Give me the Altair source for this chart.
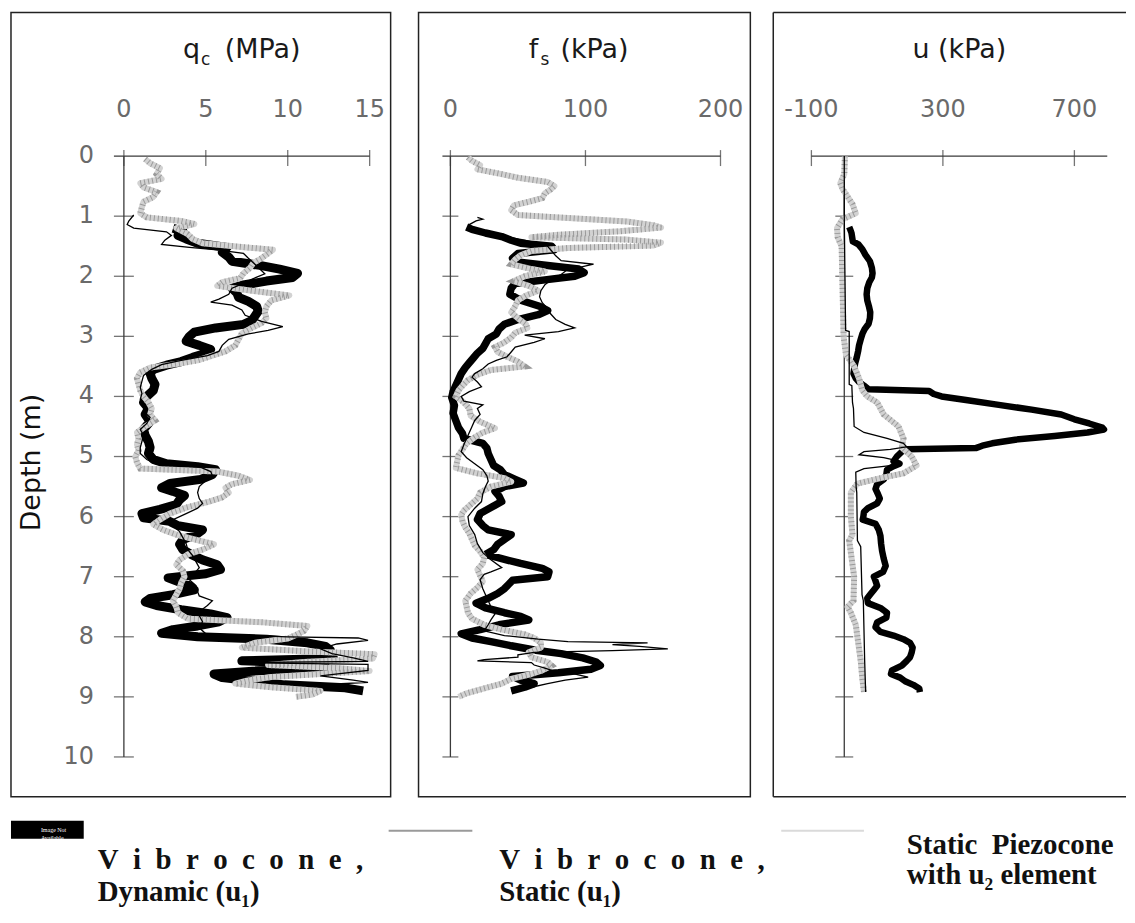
import altair as alt
import pandas as pd

# ---------------- data (depth m, value) ----------------
qc_dynamic = [(1.20, 3.0), (1.25, 3.6), (1.32, 3.3), (1.38, 3.8), (1.45, 4.5), (1.52, 6.3), (1.60, 6.0), (1.68, 6.4),
              (1.75, 6.6), (1.82, 8.3), (1.88, 9.5), (1.95, 10.6), (2.02, 10.3), (2.08, 8.7), (2.15, 7.2), (2.20, 6.6),
              (2.28, 6.9), (2.35, 7.0), (2.42, 7.6), (2.50, 8.1), (2.58, 8.2), (2.66, 8.0), (2.74, 7.8), (2.80, 7.3),
              (2.86, 5.6), (2.93, 4.3), (3.00, 4.0), (3.08, 3.8), (3.15, 4.6), (3.22, 5.3), (3.28, 5.0), (3.35, 4.2),
              (3.42, 3.5), (3.48, 2.6), (3.55, 1.8), (3.62, 1.6), (3.70, 1.7), (3.80, 1.9), (3.90, 1.8), (4.00, 1.4),
              (4.10, 1.2), (4.20, 1.5), (4.30, 1.3), (4.42, 1.6), (4.55, 1.2), (4.65, 1.3), (4.75, 1.5), (4.85, 1.6),
              (4.95, 1.5), (5.05, 1.8), (5.12, 2.6), (5.17, 4.5), (5.22, 5.6), (5.30, 5.4), (5.38, 4.7), (5.45, 2.8),
              (5.52, 2.3), (5.58, 3.0), (5.65, 3.7), (5.72, 3.4), (5.80, 3.2), (5.88, 2.2), (5.95, 1.1), (6.02, 1.2),
              (6.08, 2.8), (6.15, 3.3), (6.22, 4.8), (6.30, 4.4), (6.38, 3.6), (6.46, 3.4), (6.55, 3.6), (6.63, 4.1),
              (6.72, 4.8), (6.80, 5.7), (6.88, 5.9), (6.95, 5.0), (7.02, 2.7), (7.08, 3.3), (7.15, 4.0), (7.22, 4.3),
              (7.30, 3.0), (7.36, 1.6), (7.42, 1.3), (7.48, 2.0), (7.55, 3.5), (7.62, 5.3), (7.68, 6.3), (7.75, 5.8),
              (7.82, 4.5), (7.88, 3.0), (7.94, 2.3), (8.00, 4.5), (8.04, 8.7), (8.10, 11.2), (8.16, 12.3), (8.22, 12.6),
              (8.30, 12.2), (8.36, 12.8), (8.40, 7.2), (8.44, 11.0), (8.50, 12.3), (8.56, 8.5), (8.62, 5.5), (8.68, 6.0),
              (8.74, 8.0), (8.80, 9.8), (8.85, 13.5), (8.90, 14.6)]

qc_static = [(0.98, 0.6), (1.08, 0.3), (1.14, 0.2), (1.20, 0.6), (1.26, 2.6), (1.32, 2.9), (1.40, 2.5), (1.47, 2.3),
             (1.52, 4.0), (1.56, 5.7), (1.62, 7.3), (1.70, 7.6), (1.80, 8.0), (1.88, 8.3), (1.96, 8.6), (2.05, 7.8),
             (2.12, 7.3), (2.20, 6.6), (2.30, 6.4), (2.38, 5.8), (2.43, 5.3), (2.48, 6.6), (2.56, 7.2), (2.65, 7.4),
             (2.75, 8.4), (2.84, 9.7), (2.90, 8.8), (2.96, 7.6), (3.05, 6.4), (3.15, 6.0), (3.25, 5.8), (3.32, 5.1),
             (3.40, 3.5), (3.47, 2.3), (3.55, 1.7), (3.65, 1.2), (3.75, 1.1), (3.85, 1.0), (3.95, 1.1), (4.05, 1.0),
             (4.15, 1.3), (4.25, 1.2), (4.35, 1.6), (4.45, 1.4), (4.55, 1.0), (4.65, 1.2), (4.75, 1.1), (4.85, 1.0),
             (4.95, 1.0), (5.05, 1.4), (5.12, 1.9), (5.18, 4.7), (5.25, 5.3), (5.32, 5.4), (5.40, 5.0), (5.50, 4.6),
             (5.60, 4.5), (5.70, 4.6), (5.78, 4.8), (5.86, 4.5), (5.95, 3.8), (6.05, 3.0), (6.15, 3.0), (6.25, 3.4),
             (6.35, 3.6), (6.45, 3.8), (6.55, 3.9), (6.65, 4.2), (6.75, 4.4), (6.85, 4.6), (6.95, 4.3), (7.05, 4.0),
             (7.15, 4.4), (7.25, 4.5), (7.32, 4.6), (7.40, 5.4), (7.48, 5.1), (7.56, 4.7), (7.65, 4.6), (7.75, 4.8),
             (7.85, 4.6), (7.95, 5.0), (8.00, 10.0), (8.02, 14.3), (8.06, 14.9), (8.12, 13.0), (8.20, 12.0),
             (8.28, 12.7), (8.35, 14.0), (8.41, 14.9), (8.43, 7.2), (8.46, 14.9), (8.56, 14.9), (8.65, 12.0),
             (8.72, 14.0), (8.76, 14.9), (8.79, 12.6), (8.84, 13.5), (8.90, 14.4)]

qc_piezo = [(0.05, 1.3), (0.12, 1.6), (0.20, 2.2), (0.30, 2.0), (0.38, 2.3), (0.45, 1.0), (0.52, 1.2), (0.60, 2.0),
            (0.68, 1.8), (0.76, 1.2), (0.85, 1.1), (0.95, 1.0), (1.02, 1.4), (1.08, 3.5), (1.13, 4.3), (1.20, 3.2),
            (1.30, 3.9), (1.38, 4.2), (1.45, 4.8), (1.52, 7.5), (1.56, 9.1), (1.62, 8.8), (1.70, 8.4), (1.78, 7.9),
            (1.86, 7.7), (1.95, 7.3), (2.03, 7.1), (2.10, 6.0), (2.16, 5.7), (2.24, 7.8), (2.32, 10.1), (2.40, 9.0),
            (2.50, 8.7), (2.60, 8.6), (2.70, 8.7), (2.78, 8.4), (2.86, 7.8), (2.95, 7.2), (3.05, 7.0), (3.15, 6.8),
            (3.25, 6.2), (3.32, 5.4), (3.40, 4.5), (3.46, 3.2), (3.52, 1.6), (3.60, 1.0), (3.70, 0.8), (3.80, 0.9),
            (3.90, 1.0), (4.00, 1.2), (4.10, 1.5), (4.20, 1.7), (4.30, 1.6), (4.40, 1.9), (4.50, 1.3), (4.60, 0.8),
            (4.70, 0.9), (4.80, 0.8), (4.90, 0.9), (5.00, 0.7), (5.10, 0.8), (5.20, 1.0), (5.25, 5.7), (5.32, 7.0),
            (5.39, 7.7), (5.46, 6.6), (5.52, 6.2), (5.60, 6.4), (5.68, 6.0), (5.75, 5.2), (5.85, 3.8), (5.95, 2.8),
            (6.05, 2.2), (6.13, 1.8), (6.22, 2.4), (6.30, 3.2), (6.38, 4.3), (6.46, 5.5), (6.55, 4.8), (6.63, 3.9),
            (6.72, 3.4), (6.80, 3.2), (6.90, 3.6), (7.00, 3.7), (7.10, 3.5), (7.20, 3.4), (7.30, 3.2), (7.40, 3.0),
            (7.50, 3.2), (7.60, 3.3), (7.70, 3.9), (7.76, 8.5), (7.82, 11.2), (7.90, 11.0), (7.97, 10.5),
            (8.03, 10.0), (8.10, 8.0), (8.18, 7.2), (8.24, 11.0), (8.29, 15.3), (8.36, 15.2), (8.42, 11.0),
            (8.47, 8.8), (8.52, 13.0), (8.57, 15.0), (8.62, 12.0), (8.67, 9.0), (8.73, 7.5), (8.78, 6.8),
            (8.84, 9.0), (8.90, 12.0), (8.96, 11.5), (9.00, 10.5)]

fs_dynamic = [(1.18, 12), (1.22, 16), (1.28, 26), (1.34, 38), (1.40, 45), (1.45, 52), (1.50, 75), (1.56, 77),
              (1.62, 50), (1.70, 46), (1.76, 48), (1.82, 72), (1.88, 95), (1.94, 99), (2.00, 92), (2.06, 70),
              (2.12, 48), (2.20, 45), (2.30, 44), (2.40, 52), (2.50, 66), (2.57, 72), (2.64, 65), (2.72, 50),
              (2.80, 40), (2.88, 36), (2.96, 34), (3.04, 28), (3.12, 26), (3.20, 24), (3.28, 20), (3.36, 17),
              (3.44, 14), (3.52, 11), (3.62, 8), (3.72, 6), (3.82, 4), (3.92, 2), (4.02, 1), (4.15, 3), (4.28, 2),
              (4.40, 4), (4.52, 6), (4.62, 9), (4.70, 10), (4.78, 24), (4.86, 27), (4.95, 28), (5.05, 30), (5.15, 32),
              (5.22, 37), (5.30, 40), (5.38, 48), (5.44, 54), (5.50, 40), (5.58, 33), (5.66, 36), (5.75, 38),
              (5.85, 30), (5.95, 22), (6.05, 20), (6.15, 24), (6.22, 28), (6.30, 45), (6.38, 40), (6.46, 35),
              (6.55, 32), (6.63, 26), (6.70, 38), (6.78, 52), (6.86, 68), (6.92, 73), (7.00, 72), (7.06, 46),
              (7.13, 43), (7.20, 40), (7.28, 35), (7.36, 28), (7.44, 19), (7.52, 26), (7.60, 40), (7.66, 52),
              (7.72, 58), (7.80, 36), (7.88, 22), (7.95, 8), (8.02, 16), (8.08, 30), (8.15, 45), (8.22, 62),
              (8.28, 82), (8.35, 98), (8.42, 108), (8.48, 111), (8.54, 104), (8.60, 80), (8.66, 46), (8.72, 52),
              (8.78, 62), (8.84, 55), (8.90, 45)]

fs_static = [(1.02, 20), (1.05, 24), (1.08, 19), (1.14, 14), (1.22, 16), (1.30, 30), (1.40, 55), (1.50, 72),
             (1.58, 75), (1.66, 78), (1.74, 82), (1.80, 106), (1.84, 98), (1.90, 86), (1.97, 82), (2.05, 75),
             (2.14, 70), (2.24, 67), (2.34, 66), (2.44, 68), (2.54, 72), (2.62, 74), (2.72, 78), (2.80, 85),
             (2.86, 92), (2.92, 80), (2.98, 55), (3.04, 70), (3.10, 62), (3.18, 48), (3.26, 45), (3.34, 42),
             (3.40, 34), (3.46, 28), (3.54, 24), (3.62, 18), (3.68, 16), (3.76, 20), (3.84, 23), (3.92, 14),
             (4.00, 8), (4.08, 10), (4.14, 24), (4.20, 20), (4.30, 22), (4.40, 18), (4.50, 16), (4.60, 14),
             (4.70, 12), (4.80, 10), (4.92, 8), (5.02, 12), (5.12, 18), (5.22, 24), (5.32, 27), (5.41, 28),
             (5.50, 26), (5.62, 24), (5.75, 23), (5.86, 18), (6.00, 13), (6.15, 14), (6.30, 18), (6.45, 20),
             (6.60, 24), (6.72, 30), (6.85, 38), (6.92, 30), (6.96, 25), (7.05, 22), (7.20, 24), (7.35, 27),
             (7.50, 30), (7.62, 33), (7.72, 30), (7.80, 28), (7.90, 25), (7.98, 40), (8.04, 65), (8.08, 87),
             (8.10, 146), (8.13, 120), (8.16, 140), (8.20, 161), (8.23, 120), (8.26, 62), (8.30, 50), (8.34, 50),
             (8.38, 25), (8.40, 20), (8.43, 60), (8.47, 62), (8.52, 70), (8.56, 75), (8.61, 90), (8.67, 102),
             (8.72, 85), (8.78, 72), (8.84, 60), (8.90, 45)]

fs_piezo = [(0.02, 13), (0.08, 16), (0.15, 22), (0.22, 20), (0.30, 38), (0.36, 50), (0.43, 72), (0.50, 77),
            (0.56, 74), (0.62, 70), (0.70, 68), (0.76, 58), (0.82, 47), (0.90, 45), (0.98, 50), (1.03, 87),
            (1.09, 131), (1.15, 150), (1.19, 156), (1.25, 126), (1.31, 80), (1.35, 60), (1.39, 131), (1.44, 156),
            (1.49, 150), (1.53, 87), (1.58, 60), (1.65, 52), (1.72, 48), (1.80, 45), (1.88, 60), (1.92, 70),
            (2.00, 55), (2.08, 47), (2.16, 58), (2.24, 65), (2.32, 56), (2.40, 50), (2.50, 48), (2.60, 45),
            (2.70, 50), (2.80, 56), (2.86, 57), (2.94, 48), (3.02, 45), (3.10, 40), (3.18, 33), (3.26, 35),
            (3.34, 42), (3.42, 50), (3.50, 55), (3.56, 30), (3.64, 20), (3.73, 13), (3.82, 9), (3.90, 6),
            (4.00, 4), (4.10, 10), (4.20, 14), (4.32, 15), (4.42, 22), (4.53, 33), (4.60, 24), (4.68, 18),
            (4.78, 12), (4.88, 9), (4.98, 6), (5.08, 5), (5.19, 4), (5.28, 20), (5.36, 40), (5.42, 45),
            (5.50, 30), (5.60, 22), (5.70, 20), (5.80, 15), (5.90, 10), (5.97, 8), (6.08, 9), (6.18, 11),
            (6.28, 14), (6.38, 16), (6.48, 18), (6.58, 22), (6.68, 25), (6.78, 24), (6.88, 20), (6.98, 22),
            (7.08, 24), (7.18, 20), (7.28, 15), (7.40, 11), (7.50, 12), (7.60, 13), (7.70, 16), (7.80, 25),
            (7.88, 38), (7.96, 55), (8.02, 62), (8.10, 67), (8.18, 67), (8.26, 58), (8.34, 60), (8.42, 72),
            (8.48, 75), (8.56, 68), (8.62, 60), (8.70, 45), (8.78, 38), (8.86, 25), (8.94, 12), (9.00, 6)]

u_dynamic = [(1.18, 15), (1.22, 18), (1.28, 22), (1.35, 24), (1.42, 26), (1.47, 43), (1.55, 55), (1.64, 64),
             (1.75, 78), (1.86, 84), (1.95, 86), (2.02, 84), (2.10, 76), (2.20, 70), (2.30, 68), (2.40, 70),
             (2.50, 75), (2.60, 79), (2.70, 78), (2.79, 74), (2.88, 62), (2.96, 55), (3.05, 50), (3.15, 45),
             (3.25, 42), (3.35, 38), (3.45, 33), (3.55, 30), (3.62, 28), (3.70, 35), (3.76, 45), (3.82, 60),
             (3.88, 74), (3.91, 258), (3.96, 272), (4.00, 296), (4.06, 370), (4.14, 470), (4.22, 570),
             (4.30, 660), (4.38, 700), (4.45, 745), (4.52, 785), (4.55, 790), (4.60, 740), (4.66, 640),
             (4.72, 520), (4.78, 450), (4.82, 420), (4.86, 400), (4.88, 190), (4.92, 175), (5.00, 160),
             (5.08, 150), (5.12, 168), (5.16, 150), (5.22, 130), (5.30, 128), (5.38, 120), (5.46, 100),
             (5.54, 95), (5.62, 102), (5.70, 108), (5.78, 100), (5.86, 72), (5.92, 60), (6.00, 58), (6.05, 56),
             (6.12, 95), (6.22, 105), (6.32, 110), (6.45, 112), (6.57, 115), (6.70, 120), (6.82, 126), (6.92, 118),
             (7.00, 90), (7.07, 95), (7.15, 100), (7.22, 90), (7.29, 80), (7.36, 70), (7.44, 72), (7.52, 110),
             (7.60, 130), (7.68, 128), (7.76, 100), (7.84, 95), (7.92, 110), (7.98, 150), (8.04, 180), (8.10, 200),
             (8.18, 208), (8.26, 205), (8.34, 200), (8.40, 190), (8.48, 175), (8.56, 145), (8.62, 142),
             (8.68, 170), (8.74, 185), (8.80, 210), (8.86, 228), (8.92, 230)]

u_static = [(0.00, 0), (1.00, 0), (2.00, 2), (2.90, 4), (2.92, 15), (3.80, 15), (3.82, 23), (4.10, 25), (4.20, 28),
            (4.50, 30), (4.60, 60), (4.70, 130), (4.78, 180), (4.84, 190), (4.88, 140), (4.92, 60), (4.97, 45),
            (5.02, 120), (5.08, 170), (5.14, 160), (5.20, 60), (5.26, 35), (5.50, 36), (5.60, 38), (6.40, 40),
            (6.50, 50), (7.30, 54), (7.40, 58), (8.40, 62), (8.92, 65)]

u_piezo = [(0.00, 2), (0.30, 0), (0.45, -12), (0.55, -5), (0.80, 25), (0.95, 35), (1.05, -5), (1.20, -22),
           (1.35, -20), (1.50, -8), (2.00, -6), (2.50, -4), (3.00, -2), (3.30, 5), (3.50, 30), (3.70, 45),
           (3.90, 55), (4.00, 70), (4.10, 100), (4.30, 120), (4.50, 165), (4.70, 180), (4.85, 175), (5.00, 205),
           (5.15, 220), (5.28, 180), (5.36, 110), (5.45, 40), (5.60, 20), (6.00, 20), (6.30, 25), (6.40, 15),
           (6.60, 20), (7.00, 30), (7.40, 28), (7.50, 10), (7.60, 20), (7.80, 35), (8.00, 40), (8.40, 50),
           (8.70, 55), (8.92, 60)]

qc_ticks = [0, 5, 10, 15]
fs_ticks = [0, 100, 200]
u_ticks = [-100, 300, 700]
depth_ticks = [0, 1, 2, 3, 4, 5, 6, 7, 8, 9, 10]
SP = "\u00a0\u00a0"
legend_line1 = [SP.join("Vibrocone,"), SP.join("Vibrocone,"), "Static\u00a0\u00a0Piezocone"]
legend_line2 = ["Dynamic (u\u2081)", "Static (u\u2081)", "with u\u2082 element"]

# ---------------- styling / geometry ----------------
PANEL_H = 787
Y_DOMAIN = [-2.388, 10.663]
AX = "#3a3a3a"
SANS = "DejaVu Sans"
SERIF = "Liberation Serif"


def frame(pairs):
    return pd.DataFrame({"depth": [p[0] for p in pairs], "v": [p[1] for p in pairs],
                         "i": list(range(len(pairs)))})


def panel(dyn, stat, piezo, xdomain, width, ticks, ax_start, ax_end, ax_off, dtick, title_parts, title_x,
          left_labels, full_box, dyn_width):
    xs = alt.Scale(domain=xdomain, nice=False, zero=False)
    ys = alt.Scale(domain=Y_DOMAIN, nice=False, zero=False, reverse=True)
    X = lambda f: alt.X(f, scale=xs, axis=None)
    Y = lambda f: alt.Y(f, scale=ys, axis=None)
    layers = []

    def line(pairs, **kw):
        return alt.Chart(frame(pairs)).mark_line(**kw).encode(x=X("v:Q"), y=Y("depth:Q"), order="i:Q")

    # axes drawn inside the box
    layers.append(alt.Chart(pd.DataFrame({"a": [ax_start], "b": [ax_end], "d": [0]}))
                  .mark_rule(color=AX, strokeWidth=1.3, xOffset=ax_off)
                  .encode(x=X("a:Q"), x2="b:Q", y=Y("d:Q")))
    layers.append(alt.Chart(pd.DataFrame({"x": [0], "d0": [0], "d1": [10]}))
                  .mark_rule(color=AX, strokeWidth=1.3)
                  .encode(x=X("x:Q"), y=Y("d0:Q"), y2="d1:Q"))
    layers.append(alt.Chart(pd.DataFrame({"t": ticks, "d": [0] * len(ticks)}))
                  .mark_tick(orient="vertical", size=16, thickness=1.3, color=AX, yOffset=2)
                  .encode(x=X("t:Q"), y=Y("d:Q")))
    dt = depth_ticks[1:]
    layers.append(alt.Chart(pd.DataFrame({"x": [0] * len(dt), "d": dt}))
                  .mark_tick(orient="horizontal", size=dtick, thickness=1.3, color=AX)
                  .encode(x=X("x:Q"), y=Y("d:Q")))
    layers.append(alt.Chart(pd.DataFrame({"t": ticks, "d": [0] * len(ticks), "lab": [str(t) for t in ticks]}))
                  .mark_text(font=SANS, fontSize=24, color="#6a6a6a", dy=-39, baseline="alphabetic", align="center")
                  .encode(x=X("t:Q"), y=Y("d:Q"), text="lab:N"))
    if left_labels:
        layers.append(alt.Chart(pd.DataFrame({"x": [0] * len(depth_ticks), "d": depth_ticks,
                                              "lab": [str(t) for t in depth_ticks]}))
                      .mark_text(font=SANS, fontSize=24, color="#6a6a6a", dx=-30, baseline="middle", align="right")
                      .encode(x=X("x:Q"), y=Y("d:Q"), text="lab:N"))
        layers.append(alt.Chart(pd.DataFrame({"d": [5.1], "lab": ["Depth (m)"]}))
                      .mark_text(font=SANS, fontSize=27, color="#111", angle=270, align="center", baseline="middle")
                      .encode(x=alt.value(21), y=Y("d:Q"), text="lab:N"))
    for txt, dx, dy, size, align in title_parts:
        layers.append(alt.Chart(pd.DataFrame({"x": [title_x], "d": [0], "lab": [txt]}))
                      .mark_text(font=SANS, fontSize=size, color="#1a1a1a", dx=dx, dy=dy,
                                 baseline="alphabetic", align=align)
                      .encode(x=X("x:Q"), y=Y("d:Q"), text="lab:N"))

    # profiles
    layers.append(line(dyn, color="black", strokeWidth=dyn_width, strokeJoin="round", strokeCap="butt"))
    layers.append(line(piezo, color="#d2d2d2", strokeWidth=6, strokeJoin="round"))
    layers.append(line(piezo, color="#9a9a9a", strokeWidth=6, strokeDash=[1, 3]))
    layers.append(line(stat, color="black", strokeWidth=1.3))

    if not full_box:
        edge = pd.DataFrame({"a": [0]})
        layers.append(alt.Chart(edge).mark_rule(color="#222", strokeWidth=1.5)
                      .encode(x=alt.value(0), y=alt.value(0), y2=alt.value(PANEL_H)))
        layers.append(alt.Chart(edge).mark_rule(color="#222", strokeWidth=1.5)
                      .encode(x=alt.value(0), x2=alt.value(width), y=alt.value(0)))
        layers.append(alt.Chart(edge).mark_rule(color="#222", strokeWidth=1.5)
                      .encode(x=alt.value(0), x2=alt.value(width), y=alt.value(PANEL_H)))
        view = alt.ViewBackground(stroke=None)
    else:
        view = alt.ViewBackground(stroke="#222", strokeWidth=1.5)
    return alt.layer(*layers).properties(width=width, height=PANEL_H, view=view)


p1 = panel(qc_dynamic, qc_static, qc_piezo, [-6.89, 16.28], 381, qc_ticks, 0, 15, -10, 20,
           [("q", -64, -98, 27, "left"), ("c", -46, -91, 17, "left"), ("(MPa)", -22, -98, 27, "left")],
           7.5, True, True, 9)
p2 = panel(fs_dynamic, fs_static, fs_piezo, [-23.6, 222.1], 333, fs_ticks, 0, 200, -8, 16,
           [("f", -57, -98, 27, "left"), ("s", -45, -91, 17, "left"), ("(kPa)", -25, -98, 27, "left")],
           100, False, True, 7.5)
p3 = panel(u_dynamic, u_static, u_piezo, [-216, 857], 354, u_ticks, -100, 800, 0, 18,
           [("u (kPa)", 0, -98, 27, "center")],
           350, False, False, 6.5)

# ---------------- legend row ----------------
leg = pd.DataFrame({"a": [0]})
L = []
L.append(alt.Chart(leg).mark_rect(color="black").encode(
    x=alt.value(0), x2=alt.value(73), y=alt.value(17), y2=alt.value(35)))
L.append(alt.Chart(leg).mark_text(color="white", fontSize=6, font=SERIF, align="left", baseline="middle",
                                  lineBreak="\n").encode(x=alt.value(30), y=alt.value(26),
                                                         text=alt.value("Image Not\nAvailable")))
L.append(alt.Chart(leg).mark_rule(color="#9a9a9a", strokeWidth=2).encode(
    x=alt.value(379), x2=alt.value(463), y=alt.value(27)))
L.append(alt.Chart(leg).mark_rule(color="#dadada", strokeWidth=2).encode(
    x=alt.value(773), x2=alt.value(856), y=alt.value(27)))
leg_x = [87, 490, 899]
leg_y1 = [65, 65, 50]
leg_y2 = [98, 98, 81]
for i in range(3):
    L.append(alt.Chart(leg).mark_text(font=SERIF, fontWeight="bold", fontSize=29, color="#111",
                                      align="left", baseline="alphabetic")
             .encode(x=alt.value(leg_x[i]), y=alt.value(leg_y1[i]), text=alt.value(legend_line1[i])))
    L.append(alt.Chart(leg).mark_text(font=SERIF, fontWeight="bold", fontSize=29, color="#111",
                                      align="left", baseline="alphabetic")
             .encode(x=alt.value(leg_x[i]), y=alt.value(leg_y2[i]), text=alt.value(legend_line2[i])))
legend = alt.layer(*L).properties(width=1110, height=100, view=alt.ViewBackground(stroke=None))

top = alt.hconcat(alt.hconcat(p1, p2, spacing=26), p3, spacing=21)
chart = alt.vconcat(top, legend, spacing=6).properties(
    padding={"left": 2, "top": 2, "right": 0, "bottom": 0}
).configure_view(stroke=None)

chart.save("out.html", embed_options={"renderer": "svg", "actions": False})
